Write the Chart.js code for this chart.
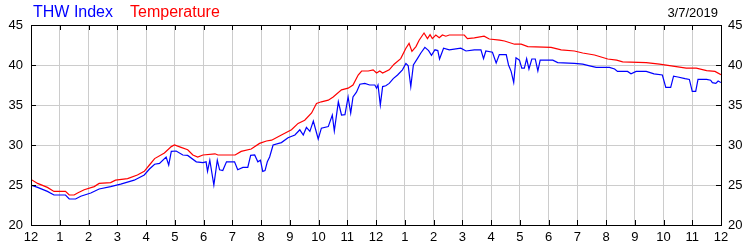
<!DOCTYPE html>
<html>
<head>
<meta charset="utf-8">
<script src="https://cdn.jsdelivr.net/npm/chart.js@4"></script>
<style>
  body { margin: 0; background: #fff; }
  #wrap { position: relative; width: 750px; height: 250px; }
  .hdr { position: absolute; font-family: "Liberation Sans", Arial, sans-serif; white-space: nowrap; }
</style>
</head>
<body>
<div id="wrap">
  <canvas id="weatherChart" width="750" height="250"></canvas>
  <span class="hdr" style="left:33px; top:3px; font-size:16px; line-height:18px; color:#0000ff;">THW Index</span>
  <span class="hdr" style="left:130px; top:3px; font-size:16px; line-height:18px; color:#ff0000;">Temperature</span>
  <span class="hdr" style="right:32px; top:5px; font-size:13px; line-height:15px; color:#000;">3/7/2019</span>
</div>
<script>
// TICK LABELS (hour of day, 12h clock)
const hourLabels = ["12", "1", "2", "3", "4", "5", "6", "7", "8", "9", "10", "11",
  "12", "1", "2", "3", "4", "5", "6", "7", "8", "9", "10", "11", "12"];
const yTicks = [20, 25, 30, 35, 40, 45];

// TEMPERATURE (red)
const tempHours = [0, 0.23, 0.57, 0.8, 1.2, 1.33, 1.5, 1.62, 1.85, 2.2, 2.37, 2.77, 2.94, 3.36, 3.7, 3.94,
  4.12, 4.3, 4.64, 4.88, 4.99, 5.22, 5.45, 5.63, 5.8, 5.98, 6.4, 6.5, 7.1, 7.31, 7.66, 7.95,
  8.19, 8.37, 8.71, 9.06, 9.29, 9.52, 9.76, 9.93, 10.1, 10.34, 10.51, 10.8, 11.03, 11.2, 11.38, 11.5,
  11.73, 11.9, 12.02, 12.13, 12.23, 12.46, 12.63, 12.86, 13.04, 13.15, 13.25, 13.39, 13.5, 13.67, 13.79, 13.88,
  13.96, 14.08, 14.2, 14.31, 14.43, 14.55, 15.07, 15.18, 15.42, 15.76, 15.94, 16.3, 16.47, 16.82, 17.05, 17.28,
  18.09, 18.44, 18.9, 19.19, 19.6, 19.83, 20.06, 20.37, 20.58, 21.4, 21.86, 22.27, 22.79, 23.14, 23.5, 23.79, 24];
const tempValues = [25.7, 25.2, 24.7, 24.2, 24.2, 23.75, 23.75, 24.0, 24.4, 24.8, 25.2, 25.3, 25.6, 25.8, 26.25, 26.7,
  27.5, 28.3, 29.0, 29.8, 30.0, 29.7, 29.4, 28.75, 28.5, 28.75, 28.9, 28.75, 28.75, 29.2, 29.5, 30.2,
  30.5, 30.6, 31.25, 31.9, 32.7, 33.1, 34.0, 35.2, 35.4, 35.6, 36.0, 36.9, 37.1, 37.5, 38.75, 39.25,
  39.25, 39.4, 39.0, 39.25, 39.0, 39.4, 40.1, 40.8, 42.1, 42.7, 41.7, 42.3, 43.1, 44.0, 43.3, 43.8,
  43.3, 43.75, 43.4, 43.75, 43.6, 43.75, 43.75, 43.3, 43.4, 43.6, 43.25, 43.1, 43.0, 42.6, 42.6, 42.3,
  42.2, 41.9, 41.75, 41.5, 41.25, 41.0, 40.75, 40.6, 40.4, 40.3, 40.1, 39.9, 39.6, 39.6, 39.3, 39.2, 38.8];

// THW INDEX (blue)
const thwHours = [0, 0.23, 0.57, 0.8, 1.2, 1.33, 1.55, 1.73, 2.08, 2.37, 2.77, 3.12, 3.59, 3.94, 4.12, 4.3,
  4.47, 4.7, 4.79, 4.88, 5.05, 5.28, 5.45, 5.75, 5.98, 6.09, 6.14, 6.22, 6.36, 6.48, 6.56, 6.67,
  6.8, 7.08, 7.19, 7.37, 7.54, 7.64, 7.78, 7.89, 7.98, 8.06, 8.14, 8.22, 8.3, 8.42, 8.71, 8.94,
  9.18, 9.35, 9.47, 9.58, 9.7, 9.82, 9.99, 10.1, 10.34, 10.48, 10.55, 10.69, 10.8, 10.92, 11.03, 11.12,
  11.2, 11.32, 11.44, 11.61, 11.78, 11.96, 12.02, 12.07, 12.15, 12.23, 12.34, 12.46, 12.6, 12.75, 12.92, 13.04,
  13.12, 13.21, 13.3, 13.44, 13.56, 13.7, 13.83, 13.93, 14.05, 14.15, 14.21, 14.35, 14.55, 14.95, 15.13, 15.42,
  15.65, 15.74, 15.82, 16.05, 16.18, 16.29, 16.53, 16.61, 16.7, 16.79, 16.87, 16.99, 17.07, 17.16, 17.24, 17.32,
  17.42, 17.54, 17.63, 17.71, 18.15, 18.32, 18.9, 19.19, 19.43, 19.66, 20.0, 20.12, 20.3, 20.4, 20.75, 20.87,
  21.05, 21.4, 21.67, 21.96, 22.08, 22.25, 22.35, 22.5, 22.75, 22.9, 23.0, 23.12, 23.2, 23.5, 23.64, 23.7,
  23.82, 23.9, 24];
const thwValues = [25.0, 24.7, 24.2, 23.75, 23.75, 23.25, 23.25, 23.6, 24.0, 24.5, 24.8, 25.1, 25.6, 26.25, 27.0, 27.6,
  27.7, 28.5, 27.5, 29.2, 29.25, 28.75, 28.7, 27.9, 27.8, 27.9, 26.7, 28.1, 25.0, 28.1, 26.9, 26.8,
  27.9, 27.9, 26.9, 27.2, 27.2, 28.7, 28.75, 27.9, 28.1, 26.7, 26.8, 27.9, 28.5, 30.0, 30.3, 30.9,
  31.25, 31.9, 31.25, 32.2, 31.7, 33.0, 30.75, 32.1, 32.3, 33.75, 31.75, 35.4, 33.75, 33.8, 36.0, 34.0,
  36.0, 36.6, 37.6, 37.7, 37.5, 37.5, 37.1, 37.5, 35.0, 37.3, 37.4, 37.7, 38.3, 38.75, 39.4, 40.2,
  39.9, 37.3, 40.0, 40.8, 41.5, 42.2, 41.8, 41.2, 41.9, 41.8, 40.75, 42.1, 41.9, 42.1, 41.75, 41.9,
  41.9, 40.8, 41.75, 41.6, 40.25, 41.3, 41.3, 40.0, 39.2, 37.8, 40.9, 40.6, 39.6, 39.6, 40.8, 39.5,
  40.75, 40.75, 39.25, 40.6, 40.6, 40.3, 40.2, 40.1, 39.9, 39.7, 39.7, 39.7, 39.5, 39.2, 39.2, 38.9,
  39.2, 39.2, 38.9, 38.75, 37.2, 37.2, 38.6, 38.5, 38.3, 38.2, 36.7, 36.7, 38.2, 38.2, 38.1, 37.8,
  37.7, 38.0, 37.8];

const FONT = "'Liberation Sans', Arial, sans-serif";

function toPoints(xs, ys) {
  return xs.map((x, i) => ({ x: x, y: ys[i] }));
}

// BLACK FRAME + INWARD TICKS
const framePlugin = {
  id: "frame",
  afterDatasetsDraw(chart) {
    const { ctx, chartArea: a, scales } = chart;
    const px = (v) => Math.round(v) + 0.5;
    ctx.save();
    ctx.strokeStyle = "#000";
    ctx.lineWidth = 1;
    ctx.beginPath();
    hourLabels.forEach((_, h) => {
      const x = px(scales.x.getPixelForValue(h));
      ctx.moveTo(x, a.top); ctx.lineTo(x, a.top + 5);
      ctx.moveTo(x, a.bottom); ctx.lineTo(x, a.bottom - 5);
    });
    yTicks.forEach((v) => {
      const y = px(scales.y.getPixelForValue(v));
      ctx.moveTo(a.left, y); ctx.lineTo(a.left + 5, y);
      ctx.moveTo(a.right, y); ctx.lineTo(a.right - 5, y);
    });
    ctx.stroke();
    ctx.strokeRect(px(a.left), px(a.top), Math.round(a.right - a.left), Math.round(a.bottom - a.top));
    ctx.restore();
  }
};

new Chart(document.getElementById("weatherChart"), {
  type: "line",
  data: {
    datasets: [
      {
        label: "Temperature",
        data: toPoints(tempHours, tempValues),
        borderColor: "#ff0000",
        borderWidth: 1.2,
        pointRadius: 0,
        tension: 0,
        yAxisID: "y",
      },
      {
        label: "THW Index",
        data: toPoints(thwHours, thwValues),
        borderColor: "#0000ff",
        borderWidth: 1.2,
        pointRadius: 0,
        tension: 0,
        yAxisID: "y",
      },
    ],
  },
  options: {
    responsive: false,
    animation: false,
    layout: { padding: { top: 25, left: 0, right: 0, bottom: 0 }, autoPadding: false },
    plugins: { legend: { display: false }, tooltip: { enabled: false } },
    scales: {
      x: {
        type: "linear",
        min: 0,
        max: 24,
        afterFit: (s) => { s.height = 25; },
        grid: { color: "#cccccc", lineWidth: 1, drawTicks: false },
        border: { display: false },
        ticks: {
          stepSize: 1,
          autoSkip: false,
          maxRotation: 0,
          padding: 5,
          color: "#000",
          font: { family: FONT, size: 13 },
          callback: (v) => hourLabels[v],
        },
      },
      y: {
        position: "left",
        min: 20,
        max: 45,
        afterFit: (s) => { s.width = 31; },
        grid: { color: "#cccccc", lineWidth: 1, drawTicks: false },
        border: { display: false },
        ticks: { stepSize: 5, padding: 8, color: "#000", font: { family: FONT, size: 13 } },
      },
      y2: {
        position: "right",
        min: 20,
        max: 45,
        afterFit: (s) => { s.width = 29; },
        grid: { display: false, drawTicks: false },
        border: { display: false },
        ticks: { stepSize: 5, padding: 7, color: "#000", font: { family: FONT, size: 13 } },
      },
    },
  },
  plugins: [framePlugin],
});
</script>
</body>
</html>
